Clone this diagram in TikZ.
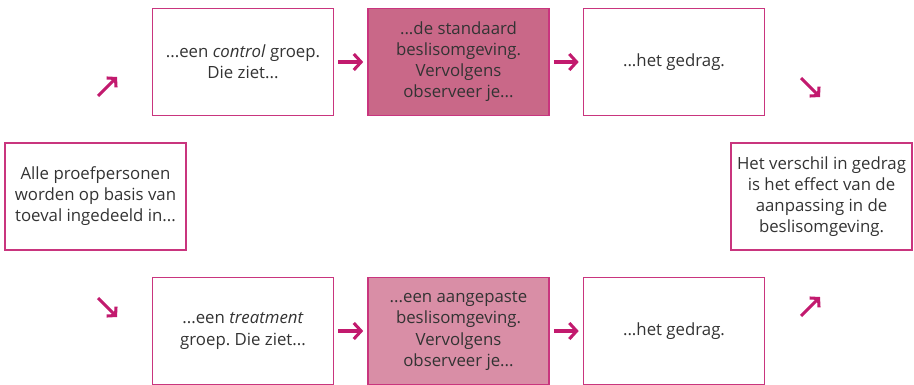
\documentclass[tikz,border=0pt]{standalone}
\usepackage{fontspec}
\setmainfont{Open Sans}
\frenchspacing
\usetikzlibrary{arrows.meta}
\definecolor{mag}{HTML}{C21A6E}
\definecolor{boxline}{HTML}{C9357E}
\definecolor{txt}{HTML}{333333}
\definecolor{fillA}{HTML}{C96888}
\definecolor{fillB}{HTML}{D98EA6}
\tikzset{
  card/.style={draw=boxline, line width=1.2pt, minimum width=181*0.75pt, minimum height=107*0.75pt,
    inner sep=0pt, align=center, text=txt, font=\fontsize{12.6pt}{15.8pt}\selectfont},
  flow/.style={draw=mag, line width=2.3pt, -{Straight Barb[length=5.5pt,width=12pt,line width=2.3pt]}},
  diag/.style={draw=mag, line width=2.3pt, -{Straight Barb[length=4.5pt,width=10pt,line width=2.3pt]}}
}
\begin{document}
\begin{tikzpicture}[x=0.75pt,y=-0.75pt]
\useasboundingbox (0,0) rectangle (914,385);
% top row
\node[card] (c1) at (243,62) {...een \textit{control} groep.\\Die ziet...};
\node[card, fill=fillA] (c2) at (458.5,62) {...de standaard\\beslisomgeving.\\Vervolgens\\observeer je...};
\node[card] (c3) at (674,62) {...het gedrag.};
% middle
\node[card] (start) at (95.5,196.5) {Alle proefpersonen\\worden op basis van\\toeval ingedeeld in...};
\node[card] (end) at (821.5,196.5) {Het verschil in gedrag\\is het effect van de\\aanpassing in de\\beslisomgeving.};
% bottom row
\node[card] (t1) at (243,331) {...een \textit{treatment}\\groep. Die ziet...};
\node[card, fill=fillB] (t2) at (458.5,331) {...een aangepaste\\beslisomgeving.\\Vervolgens\\observeer je...};
\node[card] (t3) at (674,331) {...het gedrag.};
% horizontal arrows
\draw[flow, shorten <=4*0.75pt, shorten >=4*0.75pt] (c1.east) -- (c2.west);
\draw[flow, shorten <=4*0.75pt, shorten >=4*0.75pt] (c2.east) -- (c3.west);
\draw[flow, shorten <=4*0.75pt, shorten >=4*0.75pt] (t1.east) -- (t2.west);
\draw[flow, shorten <=4*0.75pt, shorten >=4*0.75pt] (t2.east) -- (t3.west);
% diagonal arrows
\coordinate (d1s) at (98,96);  \coordinate (d1e) at (117,77);
\coordinate (d2s) at (801,78); \coordinate (d2e) at (820,97);
\coordinate (d3s) at (98,298); \coordinate (d3e) at (117,317);
\coordinate (d4s) at (801,316); \coordinate (d4e) at (820,297);
\draw[diag] (d1s) -- (d1e);
\draw[diag] (d2s) -- (d2e);
\draw[diag] (d3s) -- (d3e);
\draw[diag] (d4s) -- (d4e);
\end{tikzpicture}
\end{document}
